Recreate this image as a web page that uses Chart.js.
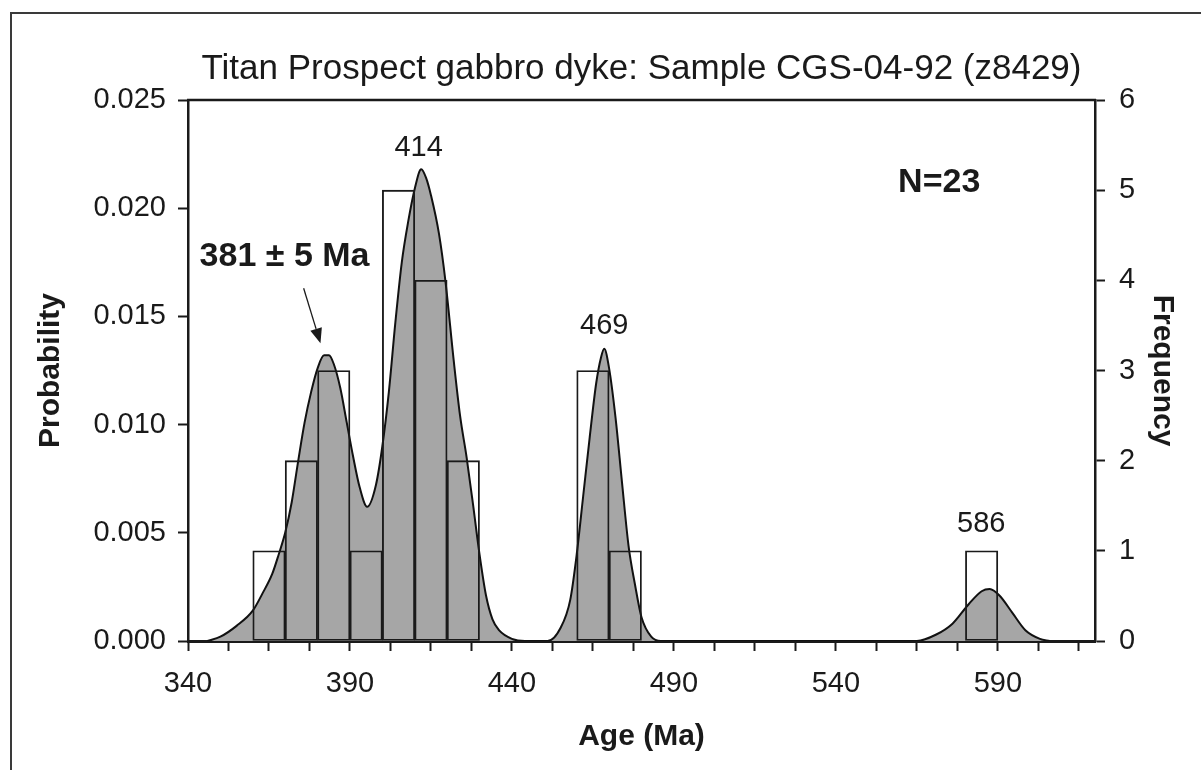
<!DOCTYPE html>
<html><head><meta charset="utf-8">
<script src="https://cdn.jsdelivr.net/npm/chart.js@4.4.1/dist/chart.umd.min.js"></script>
<style>
html,body{margin:0;padding:0;background:#fff;overflow:hidden;width:1201px;height:770px;}
#frame{position:absolute;left:10px;top:12px;width:1300px;height:900px;border:2px solid #3a3a3a;box-sizing:border-box;}
#c{position:absolute;left:0;top:0;}
</style></head><body>
<div id="frame"></div>
<canvas id="c" width="1201" height="770"></canvas>
<script>
// Histogram (frequency, right axis): bin mid-ages (Ma) and counts
const binMid   = [365, 375, 385, 395, 405, 415, 425, 465, 475, 585];
const binCount = [1,   2,   3,   1,   5,   4,   2,   3,   1,   1];

// Probability density curve (left axis)
const pdfAge  = [346,350,355,360,363,366,368,370,372,374,376,378,380,382,383.5,385,387,389,391,393,395.3,398,400,402,404,406,408,410,412,413.5,415,417.5,419.5,422,424,426,428,430,432,434,436,440,444,451,455,458,460,462,464,466,467.5,468.5,470,472,474,476,478,480,483,486,565,571,576,581,585,587.5,590.5,594.5,598.5,603,606];
const pdfProb = [0,0.0002,0.0007,0.0014,0.0022,0.0031,0.0040,0.0050,0.0064,0.0083,0.0101,0.0115,0.0126,0.0132,0.0132,0.0128,0.0117,0.0101,0.0085,0.0071,0.0062,0.0072,0.0090,0.0115,0.0147,0.0175,0.0194,0.0209,0.0218,0.0214,0.0206,0.0188,0.0166,0.0130,0.0104,0.0085,0.0063,0.0040,0.0021,0.0010,0.0005,0.0001,0,0,0.0006,0.0019,0.0040,0.0067,0.0094,0.0119,0.0131,0.0135,0.0126,0.0103,0.0073,0.0044,0.0026,0.0011,0.0002,0,0,0.0003,0.0008,0.0017,0.0023,0.0024,0.0021,0.0013,0.0005,0.0001,0];

// Axis ticks
const xTickLabels = [340, 390, 440, 490, 540, 590];
const xMinorStep = 12.5;
const xMin = 340, xMax = 620;
const probTickStep = 0.005, probMax = 0.025;
const freqTickStep = 1, freqMax = 6;

// Text annotations
const peakLabels = ['414', '469', '586'];
const peakLabelAt = [[411.2, 0.0228], [468.5, 0.01456], [584.9, 0.0054]];
const nLabel = 'N=23';
const ageLabel = '381 \u00B1 5 Ma';

const FONT = "'Liberation Sans', Arial, sans-serif";
const INK = '#1a1a1a';

const annotPlugin = {
  id: 'annot',
  afterDatasetsDraw(chart, args, opts) {
    const {ctx, chartArea, scales: {x, y}} = chart;
    ctx.save();
    // top frame line of the plot
    ctx.strokeStyle = INK; ctx.lineWidth = 2.5;
    ctx.beginPath();
    ctx.moveTo(chartArea.left - 1, chartArea.top);
    ctx.lineTo(chartArea.right + 1, chartArea.top);
    ctx.stroke();
    ctx.textAlign = 'center'; ctx.textBaseline = 'middle'; ctx.fillStyle = INK;
    opts.texts.forEach(t => {
      ctx.font = t.font;
      ctx.fillText(t.text, x.getPixelForValue(t.at[0]), y.getPixelForValue(t.at[1]));
    });
    // arrow
    const a = opts.arrow;
    const x0 = x.getPixelForValue(a.from[0]), y0 = y.getPixelForValue(a.from[1]);
    const x1 = x.getPixelForValue(a.to[0]), y1 = y.getPixelForValue(a.to[1]);
    const ang = Math.atan2(y1 - y0, x1 - x0);
    const hl = 15, hw = 6;
    ctx.strokeStyle = INK; ctx.lineWidth = 1.3;
    ctx.beginPath(); ctx.moveTo(x0, y0);
    ctx.lineTo(x1 - hl * Math.cos(ang), y1 - hl * Math.sin(ang)); ctx.stroke();
    ctx.beginPath();
    ctx.moveTo(x1, y1);
    ctx.lineTo(x1 - hl * Math.cos(ang) + hw * Math.sin(ang), y1 - hl * Math.sin(ang) - hw * Math.cos(ang));
    ctx.lineTo(x1 - hl * Math.cos(ang) - hw * Math.sin(ang), y1 - hl * Math.sin(ang) + hw * Math.cos(ang));
    ctx.closePath(); ctx.fill();
    ctx.restore();
  }
};

const ctx = document.getElementById('c').getContext('2d');
new Chart(ctx, {
  type: 'bar',
  data: {
    datasets: [
      {
        type: 'bar',
        label: 'Frequency',
        yAxisID: 'y1',
        data: binMid.map((m, i) => ({x: m, y: binCount[i]})),
        backgroundColor: 'rgba(0,0,0,0)',
        borderColor: '#1a1a1a',
        borderWidth: 1.2,
        borderSkipped: false,
        barPercentage: 1,
        categoryPercentage: 1,
        order: 0
      },
      {
        type: 'line',
        label: 'Probability',
        yAxisID: 'y',
        data: pdfAge.map((a, i) => ({x: a, y: pdfProb[i]})),
        borderColor: '#111',
        borderWidth: 2,
        backgroundColor: '#a6a6a6',
        fill: 'origin',
        pointRadius: 0,
        cubicInterpolationMode: 'monotone',
        order: 1
      }
    ]
  },
  options: {
    responsive: false,
    animation: false,
    layout: {padding: 0},
    plugins: {
      legend: {display: false},
      tooltip: {enabled: false},
      title: {
        display: true,
        text: 'Titan Prospect gabbro dyke: Sample CGS-04-92 (z8429)',
        color: INK,
        font: {family: FONT, size: 35, weight: 'normal'},
        padding: {top: 48, bottom: 10},
        fullSize: false
      },
      annot: {
        texts: [
          {text: peakLabels[0], at: peakLabelAt[0], font: `29px ${FONT}`},
          {text: peakLabels[1], at: peakLabelAt[1], font: `29px ${FONT}`},
          {text: peakLabels[2], at: peakLabelAt[2], font: `29px ${FONT}`},
          {text: nLabel, at: [571.9, 0.0212], font: `bold 34px ${FONT}`},
          {text: ageLabel, at: [369.8, 0.01777], font: `bold 34px ${FONT}`}
        ],
        arrow: {from: [375.7, 0.0163], to: [380.9, 0.01376]}
      }
    },
    scales: {
      x: {
        type: 'linear',
        position: 'bottom',
        min: xMin, max: xMax,
        offset: false,
        afterBuildTicks: (s) => {
          const t = [];
          for (let v = xMin; v <= xMax - 5 + 1e-9; v += xMinorStep) t.push({value: v});
          s.ticks = t;
        },
        afterFit: (s) => { s.height = 129; },
        grid: {display: true, drawOnChartArea: false, drawTicks: true, tickLength: 10, tickColor: INK, tickWidth: 2, offset: false},
        border: {display: true, color: INK, width: 3},
        ticks: {
          autoSkip: false, maxRotation: 0, padding: 16, color: INK,
          font: {family: FONT, size: 29},
          callback: (v) => xTickLabels.includes(v) ? String(v) : ''
        },
        title: {display: true, text: 'Age (Ma)', color: INK, font: {family: FONT, size: 30, weight: 'bold'}, padding: {top: 0, bottom: 15}}
      },
      y: {
        type: 'linear',
        position: 'left',
        min: 0, max: probMax,
        afterFit: (s) => { s.width = 188; },
        grid: {display: true, drawOnChartArea: false, drawTicks: true, tickLength: 10, tickColor: INK, tickWidth: 2},
        border: {display: true, color: INK, width: 2.5},
        ticks: {stepSize: probTickStep, padding: 12, color: INK, font: {family: FONT, size: 29}, callback: (v) => v.toFixed(3)},
        title: {display: true, text: 'Probability', color: INK, font: {family: FONT, size: 30, weight: 'bold'}, padding: {top: 33, bottom: 0}}
      },
      y1: {
        type: 'linear',
        position: 'right',
        min: 0, max: freqMax,
        afterFit: (s) => { s.width = 106; },
        grid: {display: true, drawOnChartArea: false, drawTicks: true, tickLength: 10, tickColor: INK, tickWidth: 2},
        border: {display: true, color: INK, width: 2.5},
        ticks: {stepSize: freqTickStep, padding: 14, color: INK, font: {family: FONT, size: 29}},
        title: {display: true, text: 'Frequency', color: INK, font: {family: FONT, size: 30, weight: 'bold'}, padding: {top: 21, bottom: 0}}
      }
    }
  },
  plugins: [annotPlugin]
});
</script>
</body></html>
